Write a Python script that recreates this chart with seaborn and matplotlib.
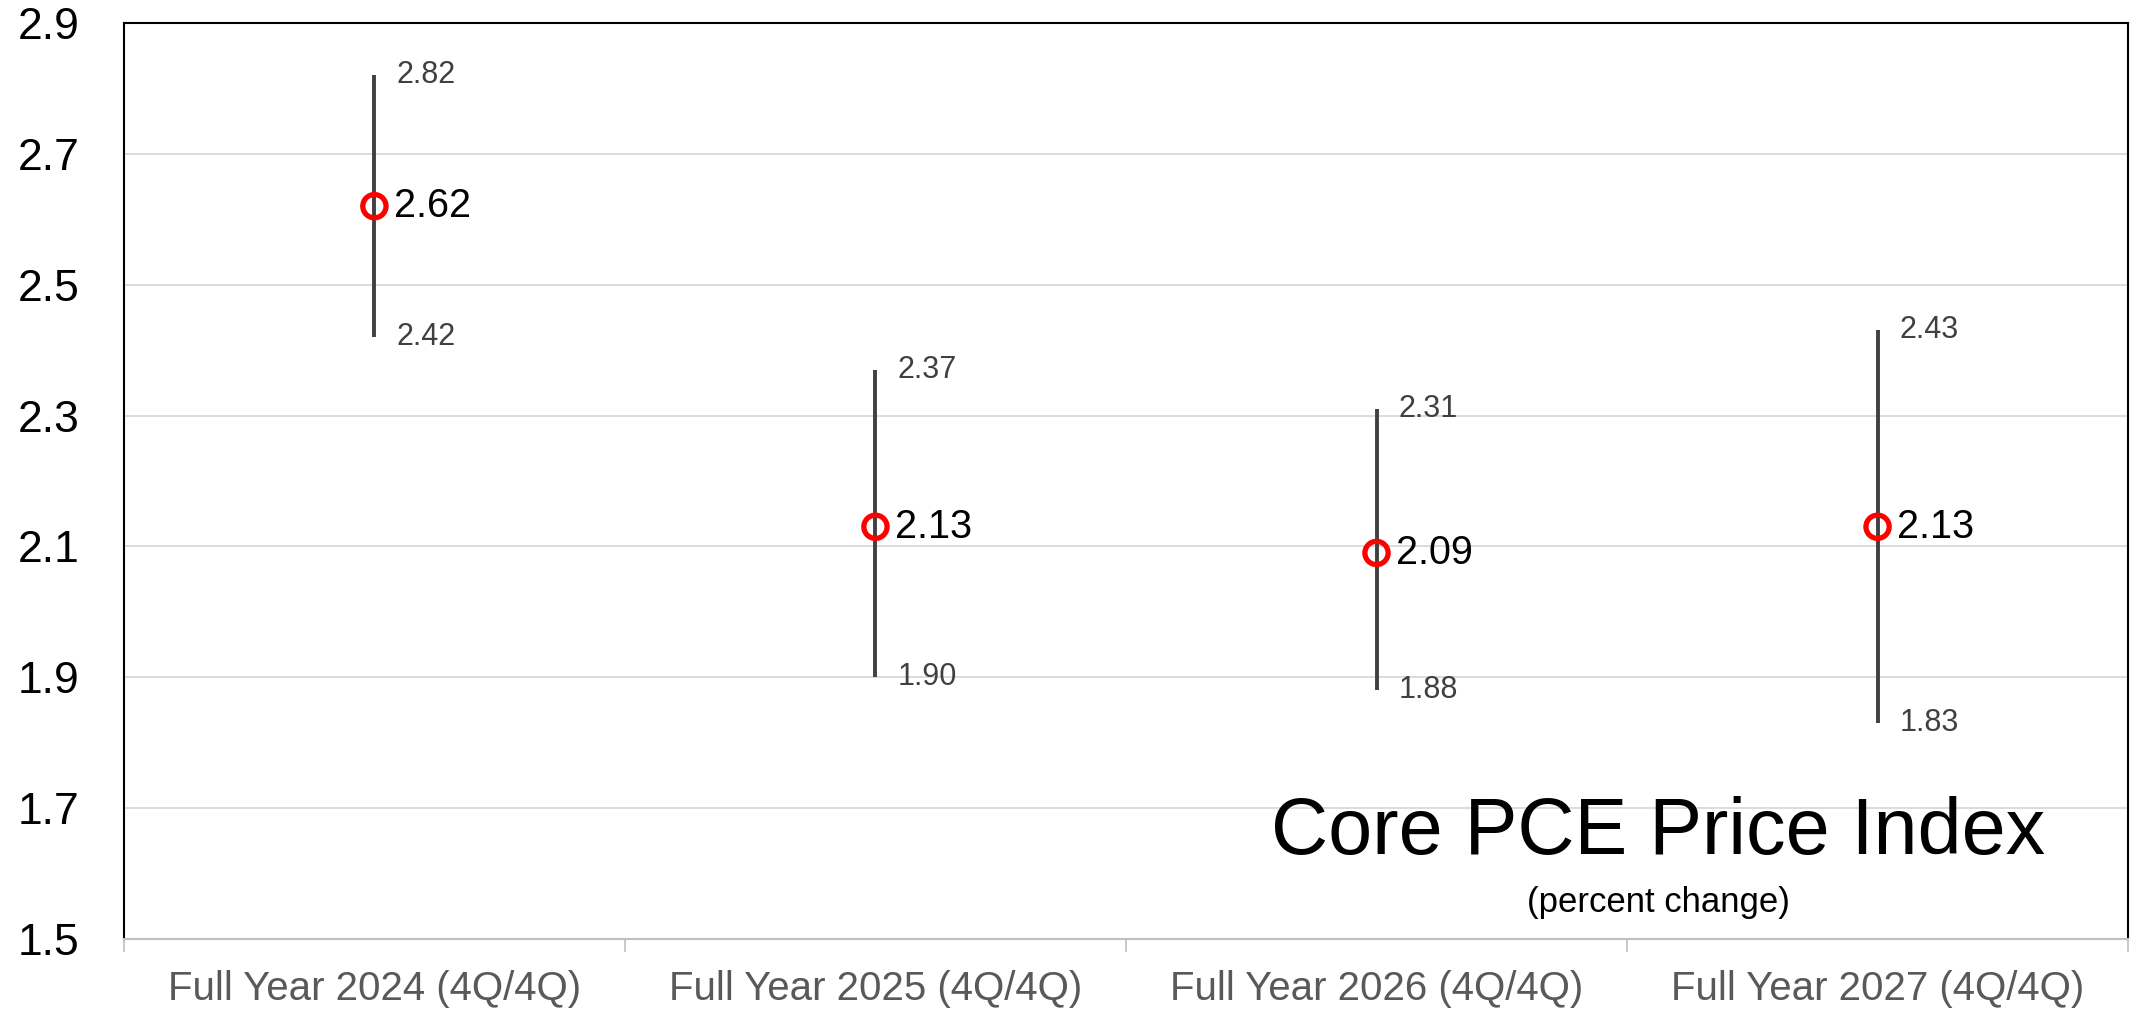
import matplotlib
matplotlib.use("Agg")
import matplotlib.pyplot as plt
import seaborn as sns
import pandas as pd

# Forecast ranges for core PCE inflation
periods = ["Full Year 2024 (4Q/4Q)", "Full Year 2025 (4Q/4Q)",
           "Full Year 2026 (4Q/4Q)", "Full Year 2027 (4Q/4Q)"]
median = [2.62, 2.13, 2.09, 2.13]
high = [2.82, 2.37, 2.31, 2.43]
low = [2.42, 1.90, 1.88, 1.83]
yticks = [1.5, 1.7, 1.9, 2.1, 2.3, 2.5, 2.7, 2.9]

df = pd.DataFrame({"period": periods, "median": median, "high": high, "low": low})

sns.set_theme(style="white")
plt.rcParams["font.family"] = ["Liberation Sans", "DejaVu Sans"]

fig = plt.figure(figsize=(21.36, 10.16), dpi=100)
ax = fig.add_axes([0.058, 0.0758, 0.9383, 0.9016])

ax.set_axisbelow(True)
ax.yaxis.grid(True, color="#d9d9d9", linewidth=1.3)

# Range lines from low to high
pos = list(range(len(periods)))
ax.vlines(pos, df["low"], df["high"], color="#404040", linewidth=2.8, zorder=2)

# Median markers
sns.scatterplot(data=df, x="period", y="median", ax=ax, marker="o", s=280,
                facecolor="none", edgecolor="#ff0000", linewidth=3.8, zorder=3,
                legend=False)

for i, row in df.iterrows():
    ax.annotate(f"{row['median']:.2f}", (i, row["median"]), xytext=(14, 0),
                textcoords="offset points", ha="left", va="center",
                fontsize=28.5, color="black")
    ax.annotate(f"{row['high']:.2f}", (i, row["high"]), xytext=(16, 0),
                textcoords="offset points", ha="left", va="center",
                fontsize=22, color="#404040")
    ax.annotate(f"{row['low']:.2f}", (i, row["low"]), xytext=(16, 0),
                textcoords="offset points", ha="left", va="center",
                fontsize=22, color="#404040")

ax.set_xlim(-0.5, len(periods) - 0.5)
ax.set_ylim(1.5, 2.9)
ax.set_yticks(yticks)
ax.set_yticklabels([f"{v:.1f}" for v in yticks])
ax.tick_params(axis="y", length=0, pad=32, labelsize=32, labelcolor="black")

ax.set_xticks(pos)
ax.set_xticklabels(periods)
ax.set_xticks([p - 0.5 for p in range(len(periods) + 1)], minor=True)
ax.tick_params(axis="x", which="major", length=0, pad=22, labelsize=29,
               labelcolor="#595959")
ax.tick_params(axis="x", which="minor", bottom=True, length=9, width=1.2,
               color="#bfbfbf")
ax.set_xlabel("")
ax.set_ylabel("")

for side in ["left", "top", "right"]:
    ax.spines[side].set_color("black")
    ax.spines[side].set_linewidth(1.5)
ax.spines["bottom"].set_color("#bfbfbf")
ax.spines["bottom"].set_linewidth(1.5)

ax.text(0.7655, 0.115, "Core PCE Price Index", transform=ax.transAxes,
        ha="center", va="center", fontsize=57, color="black")
ax.text(0.7655, 0.040, "(percent change)", transform=ax.transAxes,
        ha="center", va="center", fontsize=25, color="black")

fig.savefig("out.png", dpi=100)
